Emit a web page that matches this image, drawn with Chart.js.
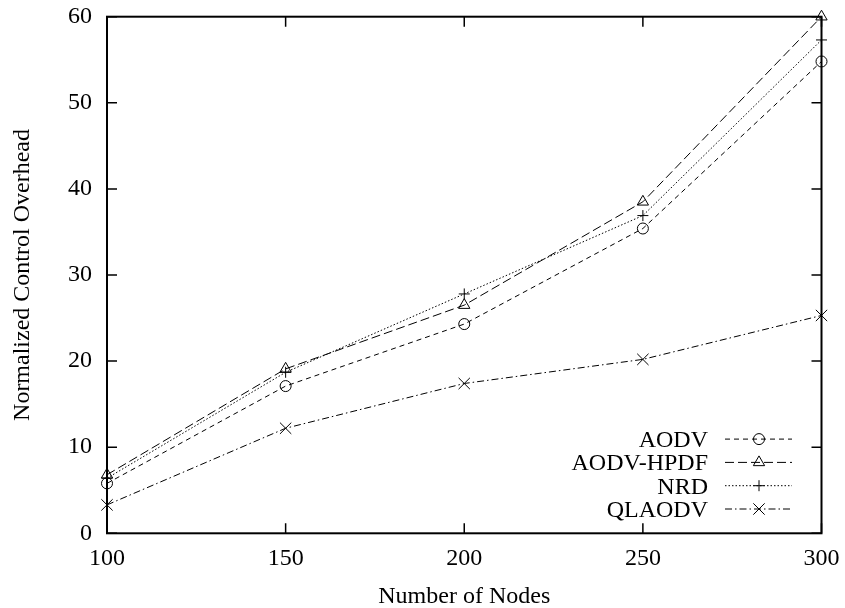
<!DOCTYPE html>
<html><head><meta charset="utf-8">
<script src="https://cdn.jsdelivr.net/npm/chart.js@4/dist/chart.umd.min.js"></script>
<style>html,body{margin:0;padding:0;background:#fff}#wrap{width:845px;height:608px;position:relative}</style>
</head><body><div id="wrap"><canvas id="c" width="845" height="608"></canvas></div>
<script>
const nodes = [100, 150, 200, 250, 300];
const aodv = [5.8, 17.1, 24.3, 35.4, 54.8];
const aodvHpdf = [6.8, 19.1, 26.5, 38.5, 60.0];
const nrd = [6.4, 18.7, 27.8, 36.9, 57.3];
const qlaodv = [3.3, 12.2, 17.4, 20.2, 25.3];
const seriesNames = ['AODV', 'AODV-HPDF', 'NRD', 'QLAODV'];
const xTicks = [100, 150, 200, 250, 300];
const yTicks = [0, 10, 20, 30, 40, 50, 60];
const xTitle = 'Number of Nodes';
const yTitle = 'Normalized Control Overhead';

const FONT = "'Liberation Serif', 'Times New Roman', serif";
const FS = 24;
const TL = 10;

function pts(vals) { return vals.map((v, i) => ({x: nodes[i], y: v})); }

const styles = [
  {pointStyle: 'circle', pointRadius: 5.5, borderDash: [5, 4]},
  {pointStyle: 'triangle', pointRadius: 6.5, borderDash: [9, 4]},
  {pointStyle: 'cross', pointRadius: 5.5, borderDash: [1.5, 2]},
  {pointStyle: 'crossRot', pointRadius: 8, borderDash: [7, 3, 1.5, 3]}
];
const seriesVals = [aodv, aodvHpdf, nrd, qlaodv];

const datasets = seriesVals.map((vals, i) => ({
  label: seriesNames[i],
  data: pts(vals),
  borderColor: '#000',
  borderWidth: 1,
  borderDash: styles[i].borderDash,
  pointStyle: styles[i].pointStyle,
  pointRadius: styles[i].pointRadius,
  pointHoverRadius: styles[i].pointRadius,
  pointBorderColor: '#000',
  pointBackgroundColor: 'rgba(0,0,0,0)',
  pointBorderWidth: 1,
  tension: 0,
  fill: false,
  clip: false
}));

const framePlugin = {
  id: 'frame',
  afterDatasetsDraw(chart) {
    const ctx = chart.ctx, a = chart.chartArea, x = chart.scales.x, y = chart.scales.y;
    ctx.save();
    ctx.setLineDash([]);
    ctx.strokeStyle = '#000';
    ctx.lineWidth = 1.5;
    ctx.beginPath();
    xTicks.forEach(v => {
      const px = x.getPixelForValue(v);
      ctx.moveTo(px, a.bottom); ctx.lineTo(px, a.bottom - TL);
      ctx.moveTo(px, a.top); ctx.lineTo(px, a.top + TL);
    });
    yTicks.forEach(v => {
      const py = y.getPixelForValue(v);
      ctx.moveTo(a.left, py); ctx.lineTo(a.left + TL, py);
      ctx.moveTo(a.right, py); ctx.lineTo(a.right - TL, py);
    });
    ctx.stroke();
    ctx.lineWidth = 2;
    ctx.strokeRect(a.left, a.top, a.right - a.left, a.bottom - a.top);

    // gnuplot-style key
    const textRight = 708, lineStart = 725, lineEnd = 792, markX = 759;
    ctx.font = FS + 'px ' + FONT;
    ctx.fillStyle = '#000';
    ctx.textAlign = 'right';
    ctx.textBaseline = 'alphabetic';
    chart.data.datasets.forEach((ds, i) => {
      const base = 447 + i * 23.3;
      const my = base - 7.9;
      ctx.fillText(ds.label, textRight, base);
      ctx.lineWidth = 1;
      ctx.setLineDash(ds.borderDash);
      ctx.beginPath();
      ctx.moveTo(lineStart, my); ctx.lineTo(lineEnd, my);
      ctx.stroke();
      ctx.setLineDash([]);
      ctx.fillStyle = 'rgba(0,0,0,0)';
      Chart.helpers.drawPoint(ctx, {pointStyle: ds.pointStyle, radius: ds.pointRadius, rotation: 0, borderWidth: 1}, markX, my);
      ctx.fillStyle = '#000';
    });
    ctx.restore();
  }
};

new Chart(document.getElementById('c'), {
  type: 'line',
  data: {datasets},
  options: {
    responsive: false,
    animation: false,
    devicePixelRatio: 1,
    layout: {padding: {top: 16.7, right: 23.5, left: 0, bottom: 0}},
    plugins: {legend: {display: false}, tooltip: {enabled: false}},
    scales: {
      x: {
        type: 'linear', min: 100, max: 300,
        afterBuildTicks: s => { s.ticks = xTicks.map(v => ({value: v})); },
        afterFit: s => { s.height = 74.7; s.paddingLeft = 0; s.paddingRight = 0; s.paddingTop = 0; s.paddingBottom = 0; },
        grid: {display: false, drawTicks: false},
        border: {display: false},
        ticks: {color: '#000', font: {family: FONT, size: FS}, padding: 11.2, maxRotation: 0, autoSkip: false},
        title: {display: true, text: xTitle, color: '#000', font: {family: FONT, size: FS}, padding: {top: 0, bottom: -3.6}}
      },
      y: {
        type: 'linear', min: 0, max: 60,
        afterBuildTicks: s => { s.ticks = yTicks.map(v => ({value: v})); },
        afterFit: s => { s.width = 107; s.paddingLeft = 0; s.paddingRight = 0; s.paddingTop = 0; s.paddingBottom = 0; },
        grid: {display: false, drawTicks: false},
        border: {display: false},
        ticks: {color: '#000', font: {family: FONT, size: FS}, padding: 15, autoSkip: false},
        title: {display: true, text: yTitle, color: '#000', font: {family: FONT, size: FS}, padding: {top: 8.2, bottom: 0}}
      }
    }
  },
  plugins: [framePlugin]
});
</script>
</body></html>
